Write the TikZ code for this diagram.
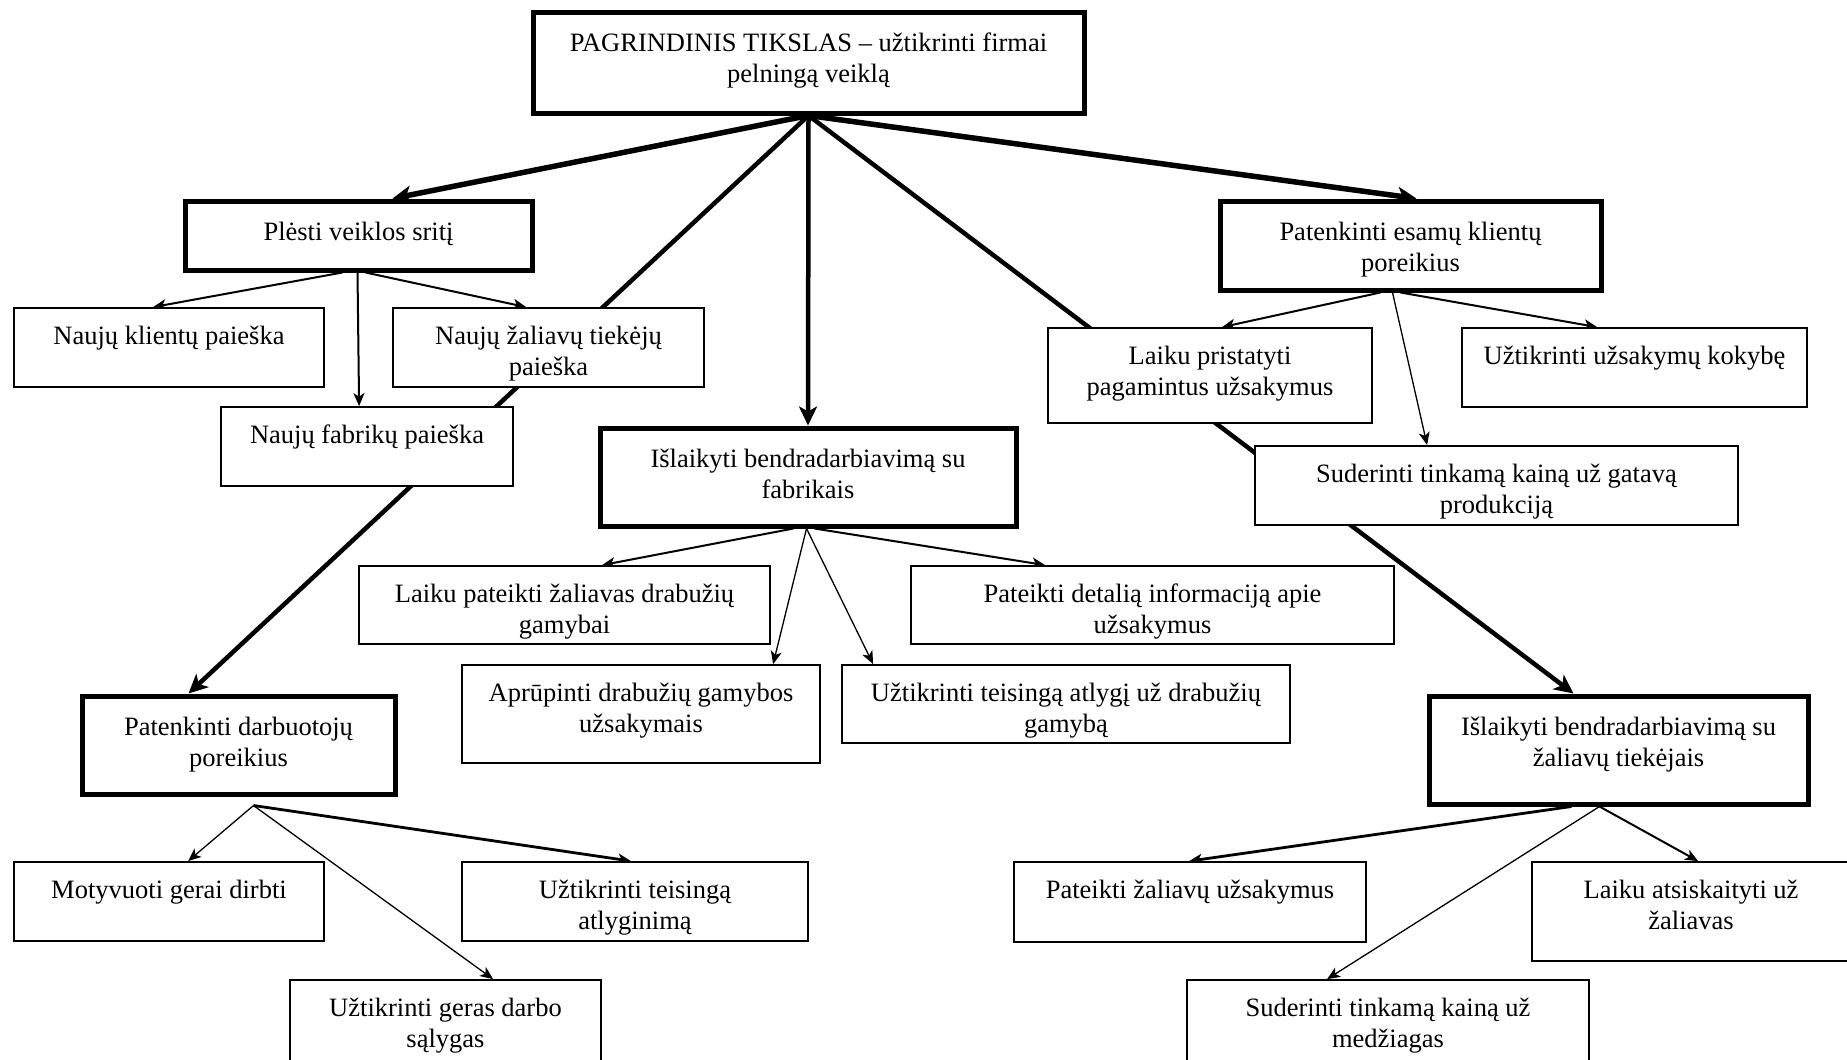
\documentclass[tikz,border=0pt]{standalone}
\usepackage{fontspec}
\setmainfont{Liberation Serif}
\usetikzlibrary{arrows.meta}
\pgfdeclarelayer{paper}
\pgfdeclarelayer{bg}
\pgfsetlayers{paper,bg,main}
\tikzset{
  boxbase/.style={draw=black, fill=white, rectangle, inner sep=0pt},
  goalbox/.style={boxbase, line width=5pt},
  taskbox/.style={boxbase, line width=1.8pt},
  txt/.style={inner sep=0pt, align=center, font=\fontsize{26.5}{31}\selectfont},
  tipbig/.style={-{Stealth[length=19pt,width=18pt,inset=5pt]}},
  tipsmall/.style={-{Stealth[length=13pt,width=11pt,inset=3.5pt]}},
  heavy/.style={line width=5.5pt, tipbig},
  strong/.style={line width=4.5pt, tipbig},
  medium/.style={line width=2.8pt, tipsmall},
  light/.style={line width=2pt, tipsmall},
  fine/.style={line width=1.3pt, tipsmall},
}
% box: style, name, left, right, top, bottom, offset of the text, text
\newcommand{\planbox}[8]{%
  \node[#1, minimum width={#4-#3}, minimum height={#6-#5}] (#2) at ({(#3+#4)/2},{(#5+#6)/2}) {};
  \node[txt, anchor=north] (#2-txt) at ({(#3+#4)/2},{#5+#7}) {\strut #8};
}
\begin{document}
\begin{tikzpicture}[x=1pt, y=-1pt]
\useasboundingbox (0,0) rectangle (1847,1060);
\clip (0,0) rectangle (1847,1060);
\begin{pgfonlayer}{paper}
  \fill[white] (0,0) rectangle (1847,1060);
\end{pgfonlayer}

% goals and tasks
\planbox{goalbox}{goal}{533}{1084}{12}{113}{17.3}{PAGRINDINIS TIKSLAS – užtikrinti firmai\\pelningą veiklą}
\planbox{goalbox}{ples}{185}{532}{201}{270}{17.3}{Plėsti veiklos sritį}
\planbox{taskbox}{nklient}{14}{324}{308}{387}{14.3}{Naujų klientų paieška}
\planbox{taskbox}{nzal}{393}{704}{308}{387}{14.3}{Naujų žaliavų tiekėjų\\paieška}
\planbox{taskbox}{nfabr}{221}{513}{407}{486}{14.3}{Naujų fabrikų paieška}
\planbox{goalbox}{fabr}{600}{1016}{428}{526}{17.3}{Išlaikyti bendradarbiavimą su\\fabrikais}
\planbox{goalbox}{esam}{1220}{1601}{201}{290}{17.3}{Patenkinti esamų klientų\\poreikius}
\planbox{taskbox}{laik}{1048}{1372}{328}{423}{14.3}{Laiku pristatyti\\pagamintus užsakymus}
\planbox{taskbox}{kok}{1462}{1807}{328}{407}{14.3}{Užtikrinti užsakymų kokybę}
\planbox{taskbox}{sudg}{1255}{1738}{446}{525}{14.3}{Suderinti tinkamą kainą už gatavą\\produkciją}
\planbox{taskbox}{pat}{359}{770}{566}{644}{14.3}{Laiku pateikti žaliavas drabužių\\gamybai}
\planbox{taskbox}{det}{911}{1394}{566}{644}{14.3}{Pateikti detalią informaciją apie\\užsakymus}
\planbox{taskbox}{apr}{462}{820}{665}{763}{14.3}{Aprūpinti drabužių gamybos\\užsakymais}
\planbox{taskbox}{atl}{842}{1290}{665}{743}{14.3}{Užtikrinti teisingą atlygį už drabužių\\gamybą}
\planbox{goalbox}{darb}{82}{395}{696}{794}{17.3}{Patenkinti darbuotojų\\poreikius}
\planbox{goalbox}{tiek}{1429}{1808}{696}{804}{17.3}{Išlaikyti bendradarbiavimą su\\žaliavų tiekėjais}
\planbox{taskbox}{mot}{14}{324}{862}{941}{14.3}{Motyvuoti gerai dirbti}
\planbox{taskbox}{atlyg}{462}{808}{862}{941}{14.3}{Užtikrinti teisingą\\atlyginimą}
\planbox{taskbox}{ger}{290}{601}{980}{1080}{14.3}{Užtikrinti geras darbo\\sąlygas}
\planbox{taskbox}{pzal}{1014}{1366}{862}{942}{14.3}{Pateikti žaliavų užsakymus}
\planbox{taskbox}{lat}{1532}{1850}{862}{961}{14.3}{Laiku atsiskaityti už\\žaliavas}
\planbox{taskbox}{med}{1187}{1589}{980}{1080}{14.3}{Suderinti tinkamą kainą už\\medžiagas}

\coordinate (darbfork) at ([xshift=174pt,yshift=-9pt]darb.south west);

% connectors run behind the boxes
\begin{pgfonlayer}{bg}
  \draw[heavy]  (goal.south) -- ([xshift=210pt]ples.north west);
  \draw[heavy]  (goal.south) -- ([xshift=199pt]esam.north west);
  \draw[strong] (goal.south) -- (fabr.north);
  \draw[strong] (goal.south) -- ([xshift=109pt]darb.north west);
  \draw[strong] (goal.south) -- ([xshift=147pt]tiek.north west);

  \draw[light] ([xshift=160pt]ples.south west) -- ([xshift=140pt]nklient.north west);
  \draw[light] ([xshift=175pt]ples.south west) -- ([xshift=139pt]nfabr.north west);
  \draw[light] ([xshift=183pt]ples.south west) -- ([xshift=134pt]nzal.north west);

  \draw[light] ([xshift=163pt]esam.south west) -- ([xshift=175pt]laik.north west);
  \draw[fine]  ([xshift=175pt]esam.south west) -- ([xshift=173pt]sudg.north west);
  \draw[light] ([xshift=183pt]esam.south west) -- ([xshift=136pt]kok.north west);

  \draw[light] ([xshift=196pt]fabr.south west) -- ([xshift=244pt]pat.north west);
  \draw[fine]  ([xshift=209pt]fabr.south west) -- ([xshift=312pt]apr.north west);
  \draw[fine]  ([xshift=209pt]fabr.south west) -- ([xshift=32pt]atl.north west);
  \draw[light] ([xshift=217pt]fabr.south west) -- ([xshift=135pt]det.north west);

  \draw[fine]   (darbfork) -- ([xshift=175pt]mot.north west);
  \draw[fine]   (darbfork) -- ([xshift=204pt]ger.north west);
  \draw[medium] (darbfork) -- ([xshift=170pt]atlyg.north west);

  \draw[medium] ([xshift=145pt]tiek.south west) -- ([xshift=176pt]pzal.north west);
  \draw[fine]   ([xshift=173pt]tiek.south west) -- ([xshift=141pt]med.north west);
  \draw[light]  ([xshift=173pt]tiek.south west) -- ([xshift=167pt]lat.north west);
\end{pgfonlayer}
\end{tikzpicture}
\end{document}
